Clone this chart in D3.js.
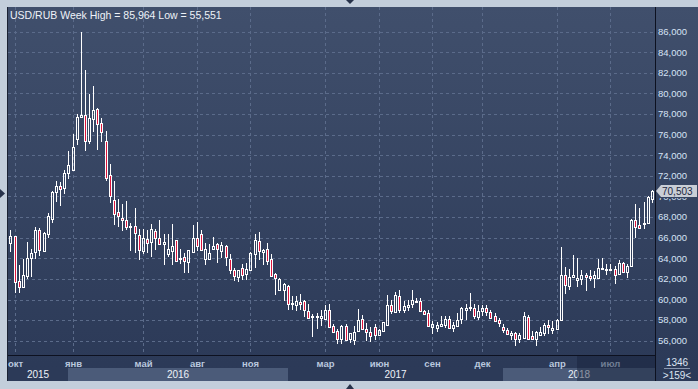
<!DOCTYPE html>
<meta charset="utf-8">
<script src="https://d3js.org/d3.v7.min.js"></script>
<style>
  body { margin: 0; background: #c3cedb; overflow: hidden; }
  svg { display: block; }
  text { font-family: "Liberation Sans", Arial, sans-serif; }
</style>
<div id="chart"></div>
<script>

// weekly USD/RUB candles, Sep 2015 .. Sep 2018
var open = [
  65.6, 65.5, 66.15, 61.8, 61.25, 62.3, 64.0, 64.6, 66.75, 64.75,
  66.4, 67.8, 70.4, 71.0, 70.8, 72.25, 72.6, 75.55, 77.75, 77.95,
  75.4, 77.5, 78.5, 77.1, 75.4, 72.1, 69.65, 68.45, 67.95, 67.7,
  67.15, 67.1, 66.25, 64.7, 65.85, 65.55, 66.65, 66.0, 65.35, 64.4,
  64.7, 65.8, 63.9, 64.1, 63.6, 64.65, 66.0, 66.4, 63.9, 63.9,
  64.9, 65.4, 64.7, 65.2, 63.95, 62.85, 62.15, 63.1, 62.45, 62.9,
  64.4, 65.65, 64.65, 64.95, 63.9, 62.45, 60.95, 60.95, 61.3,
  59.6, 59.5, 59.8, 59.9, 58.85, 58.3, 58.3, 58.2, 58.15, 58.95,
  57.4, 56.9, 56.2, 57.45, 56.2, 56.1, 56.9, 58.1, 57.15, 56.8,
  57.3, 56.6, 56.9, 57.55, 59.45, 58.8, 60.35, 59.0, 59.3, 59.55,
  59.8, 59.85, 58.85, 58.65, 57.35, 57.25, 57.45, 57.5, 58.15,
  57.2, 57.4, 58.15, 59.0, 59.15, 59.2, 58.3, 58.9, 59.2, 58.8,
  58.4, 58.0, 57.35, 57.05, 56.6, 56.7, 56.2, 56.3, 58.3, 56.45,
  56.15, 56.55, 56.7, 57.5, 57.05, 57.1, 58.05, 62.35, 61.3, 62.15,
  61.85, 61.95, 62.35, 62.3, 62.05, 62.1, 62.95, 63.0, 62.9, 63.0,
  62.5, 63.5, 62.7, 63.3, 67.75, 67.25, 67.35, 67.45, 69.8
];
var high = [
  66.7, 66.75, 66.15, 63.35, 63.9, 65.6, 64.9, 67.05, 66.95, 66.55,
  68.4, 70.55, 71.5, 71.45, 72.6, 74.4, 76.1, 78.0, 85.964, 82.3,
  79.95, 80.7, 78.6, 77.6, 76.35, 73.15, 71.5, 69.75, 69.3, 69.55,
  67.45, 68.9, 66.85, 66.8, 66.75, 67.3, 66.8, 67.7, 66.4, 66.35,
  67.3, 65.8, 64.9, 64.55, 64.8, 67.2, 67.55, 66.75, 65.45, 65.4,
  66.1, 65.5, 65.6, 65.25, 64.45, 63.1, 62.9, 63.4, 63.5, 64.65,
  66.4, 66.55, 64.95, 65.5, 64.45, 62.6, 62.05, 61.65, 61.4,
  60.3, 60.35, 60.5, 59.95, 59.6, 58.55, 58.65, 59.0, 59.5, 59.6,
  57.6, 57.1, 57.5, 57.6, 56.75, 57.4, 59.05, 58.5, 57.7, 57.35,
  57.6, 57.15, 57.85, 60.4, 59.95, 60.7, 60.95, 59.85, 60.0, 60.9,
  60.1, 60.1, 59.0, 59.0, 57.9, 57.8, 58.4, 58.4, 58.4,
  57.8, 58.7, 59.3, 59.55, 60.65, 59.6, 59.45, 59.45, 59.45, 58.95,
  58.7, 58.2, 57.6, 57.2, 56.9, 56.8, 56.7, 58.8, 58.45, 56.95,
  56.95, 57.35, 57.7, 58.05, 57.95, 58.15, 65.05, 63.2, 63.0, 64.3,
  64.05, 62.85, 62.6, 62.9, 62.75, 63.9, 64.05, 63.4, 63.45, 63.3,
  63.85, 63.6, 63.45, 67.85, 69.3, 68.9, 69.45, 70.0, 70.6
];
var low = [
  65.5, 64.7, 60.75, 60.75, 61.1, 62.1, 62.3, 64.05, 64.3, 64.75,
  66.1, 67.55, 69.55, 69.2, 70.3, 71.8, 72.6, 75.05, 77.7, 74.5,
  75.2, 76.4, 74.6, 75.4, 71.65, 69.45, 67.3, 67.15, 66.7, 66.85,
  64.85, 64.65, 63.9, 64.5, 64.6, 64.25, 64.9, 65.35, 63.4, 64.25,
  63.4, 63.65, 63.55, 62.65, 62.7, 64.65, 64.8, 64.8, 63.4, 63.9,
  64.9, 63.6, 64.15, 63.35, 62.6, 61.85, 61.8, 61.95, 62.0, 62.85,
  63.15, 63.9, 63.4, 63.4, 62.2, 60.5, 60.8, 60.0, 59.1,
  59.05, 58.95, 59.1, 58.35, 58.15, 56.5, 57.25, 57.5, 58.1, 57.25,
  56.75, 55.8, 55.8, 56.0, 55.9, 55.7, 56.85, 57.0, 56.1, 56.0,
  56.15, 56.5, 56.9, 57.55, 58.7, 58.65, 58.75, 58.75, 58.95, 59.3,
  59.65, 58.85, 58.5, 57.4, 56.75, 56.95, 57.3, 57.3, 57.15,
  56.95, 57.35, 57.7, 58.1, 59.0, 58.25, 58.15, 58.5, 58.5, 58.15,
  57.85, 57.4, 56.8, 56.55, 56.2, 55.6, 55.85, 56.15, 56.05, 56.1,
  55.551, 56.45, 56.6, 56.7, 56.7, 57.05, 58.0, 60.6, 61.0, 62.1,
  61.3, 61.5, 60.95, 61.85, 61.25, 62.05, 62.9, 62.5, 62.85, 61.6,
  62.45, 62.6, 62.15, 63.25, 66.05, 66.8, 66.95, 67.45, 69.5
];
var close = [
  66.2, 66.15, 61.7, 61.25, 62.4, 64.0, 64.5, 66.75, 64.8, 66.5,
  68.1, 70.4, 71.0, 70.7, 72.25, 73.05, 74.8, 77.7, 77.95, 75.4,
  77.6, 78.4, 77.0, 76.3, 71.8, 70.0, 68.3, 68.15, 67.7, 67.05,
  67.05, 66.5, 64.8, 65.95, 65.45, 66.8, 65.95, 65.35, 65.55, 64.9,
  65.2, 63.75, 64.0, 63.75, 64.8, 65.95, 65.2, 64.8, 64.95, 64.55,
  65.2, 64.9, 65.3, 64.1, 62.9, 62.25, 62.9, 62.35, 62.95, 64.5,
  65.8, 64.75, 64.85, 63.75, 62.25, 62.05, 61.95, 61.55, 59.55,
  59.65, 59.85, 59.55, 59.0, 58.2, 58.35, 58.35, 58.4, 58.95, 57.35,
  56.85, 56.2, 57.4, 56.1, 56.7, 56.85, 58.0, 57.15, 56.85, 56.5,
  56.6, 57.05, 57.8, 59.45, 58.9, 60.4, 59.0, 59.35, 59.5, 60.0,
  59.85, 58.9, 58.55, 57.45, 57.6, 57.5, 57.6, 58.15, 57.25,
  57.5, 58.05, 59.15, 59.2, 59.3, 58.4, 58.9, 59.2, 58.8, 58.25,
  57.95, 57.7, 57.05, 56.65, 56.7, 56.2, 56.6, 58.4, 56.2, 56.15,
  56.8, 56.8, 57.5, 57.3, 57.25, 58.05, 62.4, 61.4, 62.2, 62.4,
  62.05, 62.35, 62.2, 62.05, 62.35, 63.05, 63.1, 62.85, 63.0, 62.4,
  63.5, 62.7, 63.25, 67.75, 67.05, 66.95, 67.45, 69.95, 70.503
];

// x axis: first week of the month that gets a grid line, and its label
var monthTicks = ["2015-10-02", "2016-01-08", "2016-05-06", "2016-08-05", "2016-11-04", "2017-03-10",
                  "2017-06-09", "2017-09-08", "2017-12-01", "2018-04-06", "2018-07-06"];
var monthLabels = ["окт", "янв", "май", "авг", "ноя", "мар", "июн", "сен", "дек", "апр", "июл"];
var years = ["2015", "2016", "2017", "2018"];
var yTicks = d3.range(56, 87, 2);

var W = 698, H = 389;
var svg = d3.select("#chart").append("svg")
    .attr("width", W)
    .attr("height", H);

var fmt = d3.timeFormat("%Y-%m-%d");
var dates = d3.timeFriday.range(new Date(2015, 8, 18), new Date(2018, 8, 15)).map(fmt);
var candles = dates.map(function (d, i) {
    return {date: d, o: open[i], h: high[i], l: low[i], c: close[i]};
});

var plot = {left: 8, top: 7, right: 655, bottom: 355};
var x = d3.scalePoint().domain(dates).range([6.8, 652.3]);
var y = d3.scaleLinear().domain([56, 86]).range([340.7, 31.7]);

var last = close[close.length - 1];
var ly = Math.round(y(last));

// background gradient of the dark panel
var defs = svg.append("defs");
var grad = defs.append("linearGradient")
    .attr("id", "bg")
    .attr("x1", 0).attr("y1", 0).attr("x2", 0).attr("y2", 1);
grad.append("stop").attr("offset", "0%").attr("stop-color", "#404f6c");
grad.append("stop").attr("offset", "100%").attr("stop-color", "#2b3957");

defs.append("clipPath").attr("id", "clip")
  .append("rect")
    .attr("x", 8.5).attr("y", plot.top)
    .attr("width", plot.right - 8.5).attr("height", plot.bottom - plot.top);

// price labels are hidden under the last value tag
defs.append("clipPath").attr("id", "axclip")
  .append("path")
    .attr("d", "M656,7H698V" + (ly - 7) + "H656Z M656," + (ly + 7) + "H698V381H656Z");

svg.append("rect")
    .attr("x", 7).attr("y", 7)
    .attr("width", W - 7).attr("height", 381 - 7)
    .attr("fill", "url(#bg)");

// left dark edge of panel
svg.append("line")
    .attr("x1", 7.5).attr("x2", 7.5).attr("y1", 7).attr("y2", 381)
    .attr("stroke", "#1b2233");

// grid
var grid = svg.append("g")
    .attr("stroke", "#5b6b8a")
    .attr("stroke-dasharray", "3,3")
    .attr("shape-rendering", "crispEdges");

grid.selectAll(".hg")
    .data(yTicks)
    .enter().append("line")
    .attr("x1", plot.left).attr("x2", plot.right)
    .attr("y1", function (d) { return Math.round(y(d)) + 0.5; })
    .attr("y2", function (d) { return Math.round(y(d)) + 0.5; });

grid.selectAll(".vg")
    .data(monthTicks)
    .enter().append("line")
    .attr("x1", function (d) { return Math.floor(x(d)) + 0.5; })
    .attr("x2", function (d) { return Math.floor(x(d)) + 0.5; })
    .attr("y1", plot.top).attr("y2", plot.bottom);

// candles
var cg = svg.append("g")
    .attr("clip-path", "url(#clip)")
    .attr("shape-rendering", "crispEdges");

candles.forEach(function (d) {
    var cx = Math.floor(x(d.date));
    var top = Math.round(y(Math.max(d.o, d.c)));
    var bot = Math.round(y(Math.min(d.o, d.c)));
    var h = Math.max(bot - top, 1);
    var yh = Math.round(y(d.h));
    var yl = Math.round(y(d.l));
    var up = d.c >= d.o;

    if (yh < top) {
        cg.append("line")
            .attr("x1", cx + 0.5).attr("x2", cx + 0.5)
            .attr("y1", yh).attr("y2", top)
            .attr("stroke", "#fff");
    }
    if (yl > top + h + 1) {
        cg.append("line")
            .attr("x1", cx + 0.5).attr("x2", cx + 0.5)
            .attr("y1", top + h + 1).attr("y2", yl + 1)
            .attr("stroke", "#fff");
    }
    cg.append("rect")
        .attr("x", cx - 0.5)
        .attr("y", top + 0.5)
        .attr("width", 2)
        .attr("height", h)
        .attr("fill", up ? "none" : "#dc143c")
        .attr("stroke", "#fff")
        .attr("stroke-width", 1);
});

// title
svg.append("text")
    .attr("x", 10).attr("y", 18.5)
    .attr("font-size", "10.5px")
    .attr("fill", "#eef2f8")
    .text("USD/RUB Week High = 85,964 Low = 55,551");

// bottom axis strip
var yearStarts = years.map(function (yr, i) {
    if (i === 0) return plot.left;
    var first = dates.find(function (d) { return d.slice(0, 4) === yr; });
    return Math.floor(x(first));
});
var yearBands = years.map(function (yr, i) {
    return {year: yr, x0: yearStarts[i], x1: i < years.length - 1 ? yearStarts[i + 1] : plot.right};
});

svg.selectAll(".yb")
    .data(yearBands)
    .enter().append("rect")
    .attr("x", function (d) { return d.x0; })
    .attr("y", 368)
    .attr("width", function (d) { return d.x1 - d.x0; })
    .attr("height", 13)
    .attr("fill", function (d, i) { return i % 2 ? "#4b5b79" : "#2c3a58"; });

svg.selectAll(".yl")
    .data(yearBands)
    .enter().append("text")
    .attr("x", function (d) { return (d.x0 + d.x1) / 2; })
    .attr("y", 377.5)
    .attr("text-anchor", "middle")
    .attr("font-size", "10px")
    .attr("fill", "#eef2f8")
    .text(function (d) { return d.year; });

svg.selectAll(".ml")
    .data(monthTicks)
    .enter().append("text")
    .attr("x", function (d) { return Math.floor(x(d)) + 0.5; })
    .attr("y", 366.5)
    .attr("text-anchor", "middle")
    .attr("font-size", "9.5px")
    .attr("font-weight", "bold")
    .attr("fill", "#b9c8de")
    .text(function (d, i) { return monthLabels[i]; });

// darker scroll window at the right end of the strip
var windowStart = "2018-05-11";
svg.append("rect")
    .attr("x", Math.floor(x(windowStart)))
    .attr("y", 356)
    .attr("width", plot.right - Math.floor(x(windowStart)))
    .attr("height", 25)
    .attr("fill", "#17213a")
    .attr("opacity", 0.45);

// separators
svg.append("line")
    .attr("x1", plot.left).attr("x2", plot.right)
    .attr("y1", 355.5).attr("y2", 355.5)
    .attr("stroke", "#0d1120");
svg.append("line")
    .attr("x1", 655.5).attr("x2", 655.5)
    .attr("y1", 7).attr("y2", 381)
    .attr("stroke", "#0d1120");

// right price axis
svg.append("g")
    .attr("clip-path", "url(#axclip)")
  .selectAll(".yt")
    .data(yTicks)
    .enter().append("text")
    .attr("x", 658)
    .attr("y", function (d) { return y(d); })
    .attr("dy", "0.35em")
    .attr("font-size", "9.5px")
    .attr("fill", "#d6e3f5")
    .text(function (d) { return d3.format(",.3f")(d).replace(".", ","); });

// last value tag
svg.append("path")
    .attr("d", "M656," + ly + "L661," + (ly - 6) + "L697," + (ly - 6) + "L697," + (ly + 6) + "L661," + (ly + 6) + "Z")
    .attr("fill", "#c9ced6");
svg.append("text")
    .attr("x", 662).attr("y", ly)
    .attr("dy", "0.36em")
    .attr("font-size", "10px")
    .attr("fill", "#1c2740")
    .text(d3.format(".3f")(last).replace(".", ","));

// bottom right counters
svg.append("text")
    .attr("x", 677).attr("y", 366)
    .attr("text-anchor", "middle")
    .attr("font-size", "10px")
    .attr("fill", "#dde5f2")
    .text("1346");
svg.append("line")
    .attr("x1", 664).attr("x2", 690)
    .attr("y1", 368.5).attr("y2", 368.5)
    .attr("stroke", "#8795ae");
svg.append("text")
    .attr("x", 677).attr("y", 378.5)
    .attr("text-anchor", "middle")
    .attr("font-size", "10px")
    .attr("fill", "#dde5f2")
    .text(">159<");

// splitter arrows on the frame
svg.append("path").attr("d", "M346,0L354,0L350,4Z").attr("fill", "#27324a");
svg.append("path").attr("d", "M346,389L354,389L350,384Z").attr("fill", "#27324a");
svg.append("path").attr("d", "M0,189L0,198L5,193.5Z").attr("fill", "#27324a");

</script>
